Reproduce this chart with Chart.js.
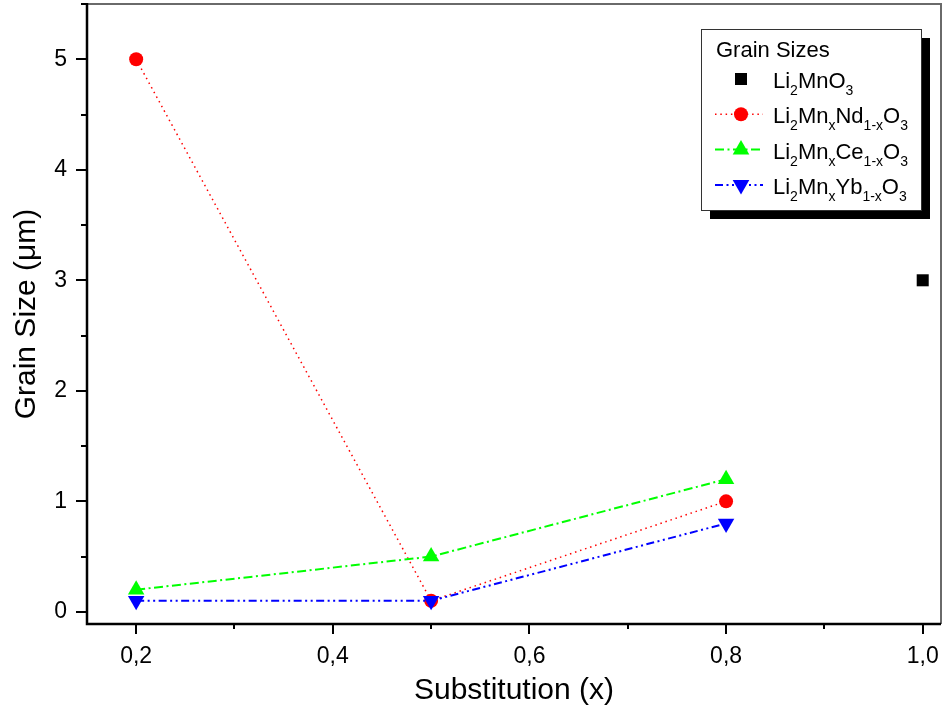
<!DOCTYPE html>
<html>
<head>
<meta charset="utf-8">
<script src="https://cdn.jsdelivr.net/npm/chart.js@4.4.0/dist/chart.umd.min.js"></script>
<style>
html, body { margin: 0; padding: 0; background: #fff; }
</style>
</head>
<body>
<canvas id="grafico" width="943" height="718"></canvas>
<script>
// datos
const xLi = [1.0];
const yLi = [3.0];
const xSust = [0.2, 0.5, 0.8];
const yNd = [5.0, 0.1, 1.0];
const yCe = [0.2, 0.5, 1.2];
const yYb = [0.1, 0.1, 0.8];

const xTicks = [0.2, 0.4, 0.6, 0.8, 1.0];
const xMenores = [0.3, 0.5, 0.7, 0.9];
const yTicks = [0, 1, 2, 3, 4, 5];
const yMenores = [0.5, 1.5, 2.5, 3.5, 4.5, 5.5];

const fuente = 'Arial, "Liberation Sans", sans-serif';

function puntos(xs, ys) {
    return xs.map((v, i) => ({ x: v, y: ys[i] }));
}

// quitar el relleno automatico que chart.js deja para las etiquetas
function sinRelleno(s) {
    s.paddingTop = 0;
    s.paddingBottom = 0;
    s.paddingLeft = 0;
    s.paddingRight = 0;
}

// ejes: borde negro abajo/izquierda, gris arriba/derecha, ticks mayores y menores
const marcoPlugin = {
    id: 'marco',
    afterDatasetsDraw(chart) {
        const { ctx, chartArea: a, scales: { x, y } } = chart;
        ctx.save();
        ctx.strokeStyle = '#6a6a6a';
        ctx.lineWidth = 2;
        ctx.beginPath();
        ctx.moveTo(a.left, a.top);
        ctx.lineTo(a.right, a.top);
        ctx.lineTo(a.right, a.bottom);
        ctx.stroke();

        ctx.strokeStyle = '#000';
        ctx.lineWidth = 2.5;
        ctx.beginPath();
        ctx.moveTo(a.left, a.top - 1);
        ctx.lineTo(a.left, a.bottom);
        ctx.lineTo(a.right, a.bottom);
        ctx.stroke();

        ctx.lineWidth = 2;
        ctx.beginPath();
        xTicks.forEach(v => {
            const px = Math.round(x.getPixelForValue(v));
            ctx.moveTo(px, a.bottom); ctx.lineTo(px, a.bottom + 10);
        });
        xMenores.forEach(v => {
            const px = Math.round(x.getPixelForValue(v));
            ctx.moveTo(px, a.bottom); ctx.lineTo(px, a.bottom + 5);
        });
        yTicks.forEach(v => {
            const py = Math.round(y.getPixelForValue(v));
            ctx.moveTo(a.left, py); ctx.lineTo(a.left - 11, py);
        });
        yMenores.forEach(v => {
            const py = Math.round(y.getPixelForValue(v));
            ctx.moveTo(a.left, py); ctx.lineTo(a.left - 6, py);
        });
        ctx.stroke();
        ctx.restore();
    }
};

// leyenda con subindices
const leyendaItems = [
    { partes: [['Li', 0], ['2', 1], ['MnO', 0], ['3', 1]], color: '#000', estilo: 'rect', dash: null },
    { partes: [['Li', 0], ['2', 1], ['Mn', 0], ['x', 1], ['Nd', 0], ['1-x', 1], ['O', 0], ['3', 1]], color: '#ff0000', estilo: 'circle', dash: [1.5, 3.8] },
    { partes: [['Li', 0], ['2', 1], ['Mn', 0], ['x', 1], ['Ce', 0], ['1-x', 1], ['O', 0], ['3', 1]], color: '#00ff00', estilo: 'triangle', dash: [9, 3.5, 2, 3.5] },
    { partes: [['Li', 0], ['2', 1], ['Mn', 0], ['x', 1], ['Yb', 0], ['1-x', 1], ['O', 0], ['3', 1]], color: '#0000ff', estilo: 'triangleDown', dash: [8, 3.5, 2, 3.5, 2, 3.5] }
];

function marcador(ctx, estilo, cx, cy, color) {
    ctx.fillStyle = color;
    ctx.beginPath();
    if (estilo === 'rect') {
        ctx.rect(cx - 6, cy - 6, 12, 12);
    } else if (estilo === 'circle') {
        ctx.arc(cx, cy, 7, 0, Math.PI * 2);
    } else if (estilo === 'triangle') {
        ctx.moveTo(cx, cy - 9.5);
        ctx.lineTo(cx + 8.3, cy + 4.8);
        ctx.lineTo(cx - 8.3, cy + 4.8);
    } else {
        ctx.moveTo(cx, cy + 9.5);
        ctx.lineTo(cx + 8.3, cy - 4.8);
        ctx.lineTo(cx - 8.3, cy - 4.8);
    }
    ctx.closePath();
    ctx.fill();
}

const leyendaPlugin = {
    id: 'leyenda',
    afterDraw(chart) {
        const ctx = chart.ctx;
        const bx = 701, by = 29, bw = 220, bh = 181;
        ctx.save();
        ctx.fillStyle = '#000';
        ctx.fillRect(bx + 9, by + 9, bw, bh);
        ctx.fillStyle = '#fff';
        ctx.fillRect(bx, by, bw, bh);
        ctx.strokeStyle = '#333';
        ctx.lineWidth = 1;
        ctx.strokeRect(bx + 0.5, by + 0.5, bw, bh);

        ctx.fillStyle = '#000';
        ctx.font = '22px ' + fuente;
        ctx.textBaseline = 'alphabetic';
        ctx.fillText('Grain Sizes', 716, 57);

        leyendaItems.forEach((it, i) => {
            const cy = 79 + i * 35.3;
            if (it.dash) {
                ctx.strokeStyle = it.color;
                ctx.lineWidth = i === 1 ? 1.5 : 2;
                ctx.setLineDash(it.dash);
                ctx.beginPath();
                ctx.moveTo(715, cy);
                ctx.lineTo(763, cy);
                ctx.stroke();
                ctx.setLineDash([]);
            }
            marcador(ctx, it.estilo, 741, cy, it.color);
            let tx = 773;
            ctx.fillStyle = '#000';
            it.partes.forEach(([t, sub]) => {
                ctx.font = (sub ? '14px ' : '22px ') + fuente;
                ctx.fillText(t, tx, cy + 9 + (sub ? 7 : 0));
                tx += ctx.measureText(t).width;
            });
        });
        ctx.restore();
    }
};

const ctx = document.getElementById('grafico');

let grafico = new Chart(ctx, {
    type: 'scatter',
    data: {
        datasets: [
            {
                label: 'Li2MnO3',
                data: puntos(xLi, yLi),
                showLine: false,
                pointStyle: 'rect',
                pointRadius: 8.5,
                backgroundColor: '#000',
                borderColor: '#000',
                borderWidth: 0,
                order: 3
            },
            {
                label: 'Li2MnxNd1-xO3',
                data: puntos(xSust, yNd),
                showLine: true,
                borderColor: '#ff0000',
                backgroundColor: '#ff0000',
                borderWidth: 1.5,
                borderDash: [1.5, 3.8],
                pointStyle: 'circle',
                pointRadius: 7,
                pointBorderWidth: 0,
                tension: 0,
                order: 2
            },
            {
                label: 'Li2MnxCe1-xO3',
                data: puntos(xSust, yCe),
                showLine: true,
                borderColor: '#00ff00',
                backgroundColor: '#00ff00',
                borderWidth: 2,
                borderDash: [9, 3.5, 2, 3.5],
                pointStyle: 'triangle',
                pointRadius: 9.5,
                pointBorderWidth: 0,
                tension: 0,
                order: 1
            },
            {
                label: 'Li2MnxYb1-xO3',
                data: puntos(xSust, yYb),
                showLine: true,
                borderColor: '#0000ff',
                backgroundColor: '#0000ff',
                borderWidth: 2,
                borderDash: [8, 3.5, 2, 3.5, 2, 3.5],
                pointStyle: 'triangle',
                pointRotation: 180,
                pointRadius: 9.5,
                pointBorderWidth: 0,
                tension: 0,
                order: 0
            }
        ]
    },
    options: {
        responsive: false,
        animation: false,
        devicePixelRatio: 1,
        layout: { autoPadding: false, padding: { top: 4, right: 2, left: 0, bottom: 0 } },
        plugins: {
            legend: { display: false },
            tooltip: { enabled: false }
        },
        scales: {
            x: {
                type: 'linear',
                min: 0.15,
                max: 1.0186,
                afterBuildTicks: (s) => { s.ticks = xTicks.map(v => ({ value: v })); },
                afterFit: (s) => { s.height = 94; sinRelleno(s); },
                grid: { display: false, drawTicks: false },
                border: { display: false },
                ticks: {
                    color: '#000',
                    font: { family: fuente, size: 23 },
                    padding: 19,
                    maxRotation: 0,
                    callback: (v) => Number(v).toFixed(1).replace('.', ',')
                },
                title: {
                    display: true,
                    text: 'Substitution (x)',
                    color: '#000',
                    font: { family: fuente, size: 30 },
                    padding: { top: 0, bottom: 9 }
                }
            },
            y: {
                type: 'linear',
                min: -0.11,
                max: 5.5,
                afterBuildTicks: (s) => { s.ticks = yTicks.map(v => ({ value: v })); },
                afterFit: (s) => { s.width = 87; sinRelleno(s); },
                grid: { display: false, drawTicks: false },
                border: { display: false },
                ticks: {
                    color: '#000',
                    font: { family: fuente, size: 23 },
                    padding: 20,
                    callback: (v) => String(v)
                },
                title: {
                    display: true,
                    text: 'Grain Size (μm)',
                    color: '#000',
                    font: { family: fuente, size: 30 },
                    padding: { top: 9, bottom: 0 }
                }
            }
        }
    },
    plugins: [marcoPlugin, leyendaPlugin]
});
</script>
</body>
</html>
